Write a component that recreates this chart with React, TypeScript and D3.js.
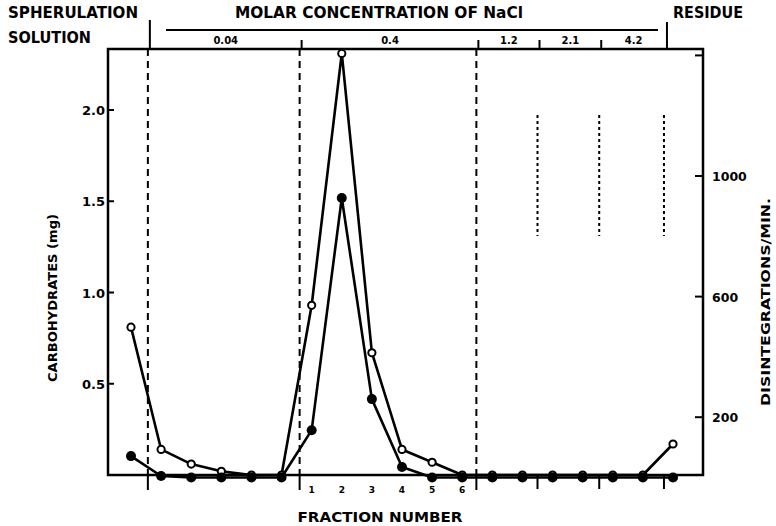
import React from "react";
import * as d3 from "d3";

// ---- data ----
const fractionIndex = d3.range(19);
const fractionLabels = ["", "", "", "", "", "", "1", "2", "3", "4", "5", "6", "", "", "", "", "", "", ""];
// open circles: carbohydrates (mg), left axis
const carbohydrates = [0.81, 0.14, 0.06, 0.02, 0, 0, 0.93, 2.31, 0.67, 0.14, 0.07, 0, 0, 0, 0, 0, 0, 0, 0.17];
// filled circles: disintegrations / min, right axis
const disintegrations = [71, 5, 0, 0, 0, 0, 157, 927, 260, 35, 0, 0, 0, 0, 0, 0, 0, 0, 0];

const leftTicks = [0.5, 1.0, 1.5, 2.0];
const leftTickLabels = ["0.5", "1.0", "1.5", "2.0"];
const rightTicks = [200, 600, 1000, 1400];
const rightTickLabels = ["200", "600", "1000", ""];

const saltLabels = ["0.04", "0.4", "1.2", "2.1", "4.2"];
// boundaries between sections, in fraction-index units
const sectionBounds = [0.56, 5.6, 11.47, 13.5, 15.55, 17.7];

export default function App() {
  const x = d3.scaleLinear().domain([0, 18]).range([131, 673]);
  const yL = d3.scaleLinear().domain([0, 2]).range([475, 110]);
  const yR = d3.scaleLinear().domain([0, 1000]).range([477.5, 176]);

  const frameLeft = 108;
  const frameRight = 703;
  const frameTop = 49;
  const base = yL(0);

  const openLine = d3
    .line<number>()
    .x((_, i) => x(i))
    .y((d) => yL(d))(carbohydrates);
  const filledLine = d3
    .line<number>()
    .x((_, i) => x(i))
    .y((d) => yR(d))(disintegrations);

  const font = "'DejaVu Sans', 'Liberation Sans', Arial, sans-serif";
  const bx = sectionBounds.map((b) => x(b));

  return (
    <svg
      width={776}
      height={526}
      style={{ position: "absolute", left: 0, top: 0, background: "#fff" }}
      fontFamily={font}
      fontWeight="bold"
    >
      <rect width={776} height={526} fill="#fff" />
      {/* header texts */}
      <text x={8} y={18} fontSize={16} textLength={130} lengthAdjust="spacingAndGlyphs">SPHERULATION</text>
      <text x={8} y={43} fontSize={16} textLength={83} lengthAdjust="spacingAndGlyphs">SOLUTION</text>
      <text x={235} y={18} fontSize={15} textLength={288} lengthAdjust="spacingAndGlyphs">MOLAR CONCENTRATION OF NaCl</text>
      <text x={673} y={18} fontSize={16} textLength={70} lengthAdjust="spacingAndGlyphs">RESIDUE</text>

      {/* header bracket line */}
      <line x1={166} x2={658} y1={30} y2={30} stroke="#000" strokeWidth={2.2} />
      {/* spherulation and residue dividers */}
      <line x1={bx[0] + 2} x2={bx[0] + 2} y1={20} y2={frameTop} stroke="#000" strokeWidth={2} />
      <line x1={bx[5] + 3} x2={bx[5] + 3} y1={22} y2={frameTop} stroke="#000" strokeWidth={2} />
      {/* section ticks in header */}
      {bx.slice(1, 5).map((b, i) => (
        <line key={i} x1={b + 2} x2={b + 2} y1={40} y2={frameTop} stroke="#000" strokeWidth={2} />
      ))}
      {saltLabels.map((s, i) => (
        <text key={s} x={(bx[i] + bx[i + 1]) / 2 + 2} y={44} fontSize={10} textAnchor="middle">
          {s}
        </text>
      ))}

      {/* frame */}
      <path
        d={`M${frameLeft},${frameTop}L${frameRight},${frameTop}L${frameRight},${base}L${frameLeft},${base}Z`}
        fill="none"
        stroke="#000"
        strokeWidth={2.5}
      />

      {/* dashed section dividers */}
      {[bx[0], bx[1], bx[2]].map((b, i) => (
        <g key={i}>
          <line x1={b} x2={b} y1={frameTop} y2={base} stroke="#000" strokeWidth={2} strokeDasharray="7,5" />
          <line x1={b} x2={b} y1={base} y2={490} stroke="#000" strokeWidth={2} />
        </g>
      ))}
      {[bx[3], bx[4], bx[5]].map((b, i) => (
        <g key={i}>
          <line x1={b} x2={b} y1={115} y2={236} stroke="#000" strokeWidth={2} strokeDasharray="3,3" />
          <line x1={b} x2={b} y1={base} y2={489} stroke="#000" strokeWidth={2} />
        </g>
      ))}

      {/* left axis */}
      {leftTicks.map((t, i) => (
        <g key={t}>
          <line x1={frameLeft} x2={frameLeft + 6} y1={yL(t)} y2={yL(t)} stroke="#000" strokeWidth={2} />
          <text x={frameLeft - 3} y={yL(t) + 5} fontSize={13} textAnchor="end">
            {leftTickLabels[i]}
          </text>
        </g>
      ))}
      <text
        transform={`translate(57,298) rotate(-90)`}
        fontSize={13}
        textAnchor="middle"
        textLength={168}
        lengthAdjust="spacingAndGlyphs"
      >
        CARBOHYDRATES (mg)
      </text>

      {/* right axis */}
      {rightTicks.map((t, i) => (
        <g key={t}>
          <line x1={frameRight - 8} x2={frameRight} y1={yR(t)} y2={yR(t)} stroke="#000" strokeWidth={2} />
          {rightTickLabels[i] && (
            <text x={frameRight + 9} y={yR(t) + 5} fontSize={12.5} textAnchor="start">
              {rightTickLabels[i]}
            </text>
          )}
        </g>
      ))}
      <text
        transform={`translate(770,302) rotate(-90)`}
        fontSize={13}
        textAnchor="middle"
        textLength={208}
        lengthAdjust="spacingAndGlyphs"
      >
        DISINTEGRATIONS/MIN.
      </text>

      {/* fraction numbers */}
      {fractionIndex.map((i) =>
        fractionLabels[i] ? (
          <text key={i} x={x(i)} y={493} fontSize={9} textAnchor="middle">
            {fractionLabels[i]}
          </text>
        ) : null
      )}
      <text x={380} y={522} fontSize={14} textAnchor="middle" textLength={165} lengthAdjust="spacingAndGlyphs">
        FRACTION NUMBER
      </text>

      {/* series */}
      <path d={openLine || ""} fill="none" stroke="#000" strokeWidth={2.6} strokeLinejoin="round" />
      <path d={filledLine || ""} fill="none" stroke="#000" strokeWidth={2.6} strokeLinejoin="round" />
      {carbohydrates.map((v, i) => (
        <circle key={"o" + i} cx={x(i)} cy={yL(v)} r={3.6} fill="#fff" stroke="#000" strokeWidth={2} />
      ))}
      {disintegrations.map((v, i) => (
        <circle key={"f" + i} cx={x(i)} cy={yR(v)} r={5} fill="#000" />
      ))}
    </svg>
  );
}
